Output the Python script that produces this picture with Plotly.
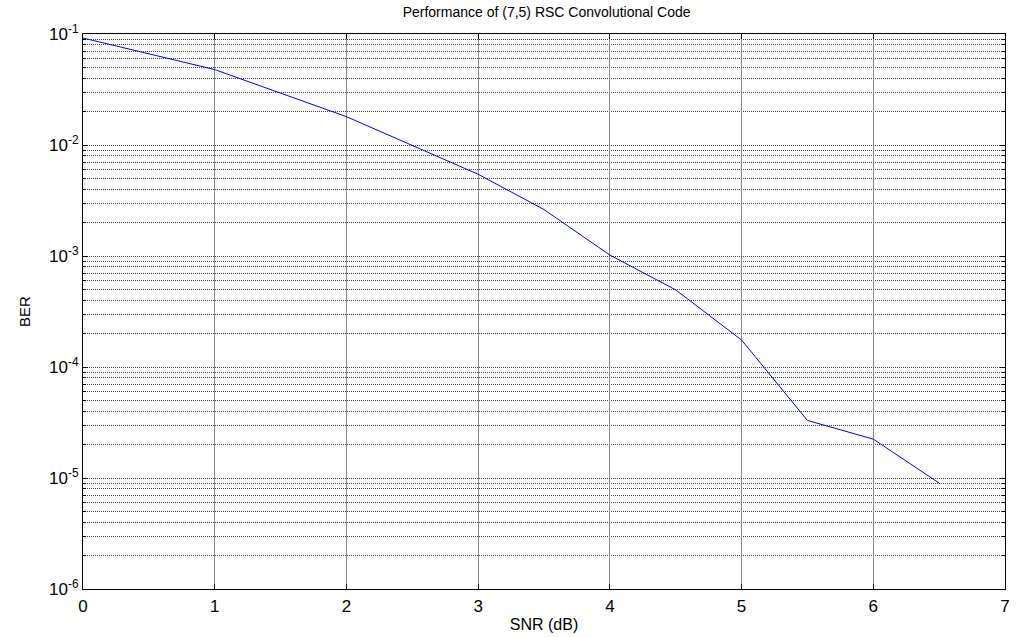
import plotly.graph_objects as go

snr_db = [0, 1, 2, 3, 3.5, 4, 4.5, 5, 5.5, 6, 6.5]
ber = [0.092, 0.0478, 0.0180, 0.00545, 0.00262, 0.00102, 0.000495, 0.000175, 3.3e-5, 2.24e-5, 9.0e-6]

y_major = [1e-6, 1e-5, 1e-4, 1e-3, 1e-2, 1e-1]
y_major_text = ["10<sup>-6</sup>", "10<sup>-5</sup>", "10<sup>-4</sup>", "10<sup>-3</sup>",
                "10<sup>-2</sup>", "10<sup>-1</sup>"]
y_minor = [m * d for d in [1e-6, 1e-5, 1e-4, 1e-3, 1e-2] for m in range(2, 10)]
x_ticks = [0, 1, 2, 3, 4, 5, 6, 7]

font_family = "Liberation Sans, Arial, sans-serif"

fig = go.Figure()
fig.add_trace(go.Scatter(x=snr_db, y=ber, mode="lines",
                         line=dict(color="#0000FF", width=1), showlegend=False))

fig.update_layout(
    width=1016, height=637,
    margin=dict(l=83, r=6, t=34, b=44),
    paper_bgcolor="white", plot_bgcolor="white",
    font=dict(family=font_family, color="black", size=14),
    title=dict(text="Performance of (7,5) RSC Convolutional Code",
               x=0.538, xanchor="center", y=0.981, yanchor="middle",
               font=dict(size=14, family=font_family, color="black")),
)

fig.update_xaxes(
    range=[0, 7], tickvals=x_ticks, ticktext=[str(v) for v in x_ticks],
    showline=True, linecolor="black", linewidth=1, mirror="ticks",
    ticks="inside", ticklen=5, tickcolor="black",
    showgrid=True, gridcolor="#8a8a8a", gridwidth=1,
    zeroline=False,
    tickfont=dict(size=17), ticklabelstandoff=2,
    title=dict(text="SNR (dB)", font=dict(size=16), standoff=3),
)

fig.update_yaxes(
    type="log", range=[-6, -1],
    tickvals=y_major, ticktext=y_major_text,
    showline=True, linecolor="black", linewidth=1, mirror="ticks",
    ticks="inside", ticklen=5, tickcolor="black",
    showgrid=True, gridcolor="#444444", griddash="1px,1px", gridwidth=1,
    zeroline=False,
    tickfont=dict(size=17),
    minor=dict(tickmode="array", tickvals=y_minor, ticks="inside", ticklen=3,
               tickcolor="black", showgrid=True, gridcolor="#444444",
               griddash="1px,1px", gridwidth=1),
    title=dict(text="BER", font=dict(size=15), standoff=14),
)

fig.write_html("out.html")
